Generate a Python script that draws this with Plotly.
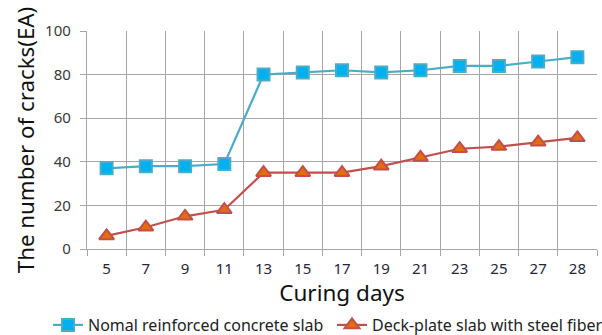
import plotly.graph_objects as go

days = ["5", "7", "9", "11", "13", "15", "17", "19", "21", "23", "25", "27", "28"]
normal_slab = [37, 38, 38, 39, 80, 81, 82, 81, 82, 84, 84, 86, 88]
deck_slab = [6, 10, 15, 18, 35, 35, 35, 38, 42, 46, 47, 49, 51]

FONT = "Noto Sans, Open Sans, sans-serif"

fig = go.Figure()
fig.add_trace(go.Scatter(
    x=days, y=normal_slab, mode="lines+markers",
    name="Nomal reinforced concrete slab", legend="legend",
    line=dict(color="#4bacc6", width=2.2),
    marker=dict(symbol="square", size=12, color="#00b0f0",
                line=dict(color="#4bacc6", width=2)),
))
fig.add_trace(go.Scatter(
    x=days, y=deck_slab, mode="lines+markers",
    name="Deck-plate slab with steel fiber", legend="legend2",
    line=dict(color="#c0504d", width=2.2),
    marker=dict(symbol="triangle-up", size=13, color="#e46c0a",
                line=dict(color="#c0504d", width=2)),
))

leg_common = dict(orientation="h", font=dict(size=16, color="#222222"),
                  xref="container", yref="container", yanchor="middle",
                  xanchor="left", bgcolor="rgba(0,0,0,0)", itemwidth=30)

fig.update_layout(
    width=602, height=335,
    margin=dict(l=87, r=5, t=31, b=86),
    paper_bgcolor="white", plot_bgcolor="white",
    font=dict(family=FONT, color="#333333", size=14),
    showlegend=True,
    legend=dict(x=48 / 602, y=1 - 325 / 335, **leg_common),
    legend2=dict(x=332 / 602, y=1 - 325 / 335, **leg_common),
)
fig.update_xaxes(
    type="category", tickson="boundaries", automargin=False,
    range=[-0.5, len(days) - 0.5],
    showgrid=True, gridcolor="#a6a6a6", gridwidth=1.3,
    ticks="outside", ticklen=6, tickcolor="#a6a6a6", tickwidth=1.3,
    ticklabelstandoff=6,
    showline=True, linecolor="#a6a6a6", linewidth=1.3,
    tickfont=dict(size=15, color="#26263a"),
    title=dict(text="Curing days", font=dict(size=22.5, color="#111111"), standoff=3),
)
fig.update_yaxes(
    range=[0, 100], dtick=20, tick0=0, automargin=False,
    showgrid=True, gridcolor="#a6a6a6", gridwidth=1.3,
    ticks="outside", ticklen=6, tickcolor="#a6a6a6", tickwidth=1.3,
    ticklabelstandoff=6,
    showline=True, linecolor="#a6a6a6", linewidth=1.3,
    zeroline=False,
    tickfont=dict(size=15, color="#3a3a3a"),
    title=dict(text="The number of cracks(EA)", font=dict(size=22.3, color="#111111"), standoff=4),
)

fig.write_html("out.html", config={"displayModeBar": False},
               post_script="document.body.style.margin='0';document.body.style.padding='0';")
